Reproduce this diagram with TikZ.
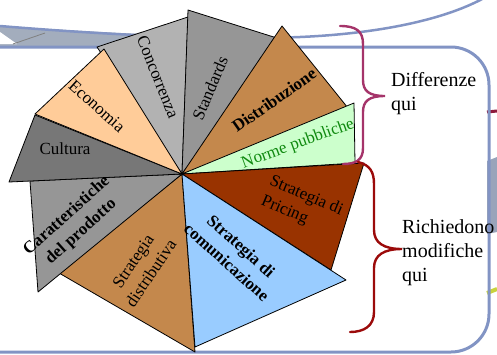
\documentclass[tikz,border=0pt]{standalone}
\usepackage{fontspec}
\setmainfont{Liberation Serif}
\usepackage{xcolor}
\usepackage{tikz}
\usetikzlibrary{positioning}
\pgfdeclarelayer{framelayer}
\pgfdeclarelayer{wedgelayer}
\pgfsetlayers{framelayer,wedgelayer,main}
\definecolor{frameblue}{HTML}{8294C4}
\definecolor{bandgray}{HTML}{A3ADBD}
\definecolor{slategray}{HTML}{98A4BA}
\definecolor{limestub}{HTML}{C9D23C}
\definecolor{stubred}{HTML}{8E1A3C}
\definecolor{bracemagenta}{HTML}{A5346A}
\definecolor{bracered}{HTML}{9B0A0A}
\definecolor{lightgraywedge}{HTML}{B2B2B2}
\definecolor{midgraywedge}{HTML}{969696}
\definecolor{darkgraywedge}{HTML}{777777}
\definecolor{brownwedge}{HTML}{C4884C}
\definecolor{peachwedge}{HTML}{FFCC99}
\definecolor{greenwedge}{HTML}{CCFFCC}
\definecolor{rustwedge}{HTML}{993300}
\definecolor{bluewedge}{HTML}{99CCFF}
\definecolor{normegreen}{HTML}{108A10}

\begin{document}
\begin{tikzpicture}[x=1pt, y=-1pt,
  wedge/.style={draw=black, line width=0.8pt, line join=round},
  tag/.style={inner sep=0pt, align=center, font=\fontsize{17}{21.5}\selectfont},
  boldtag/.style={tag, font=\fontsize{17}{21.5}\selectfont\bfseries},
  note/.style={inner sep=0pt, anchor=north west, align=left, font=\fontsize{20}{24}\selectfont},
  brace/.style={line width=2.4pt, line cap=round}]
  \useasboundingbox (0,0) rectangle (497,354);
  \begin{pgfonlayer}{framelayer}
    \fill [bandgray] (0,26) .. controls (80,31) and (150,35) .. (210,37) -- (210,47) -- (0,47) -- cycle;
    \fill [white] (0,32) -- (17,44) -- (0,44) -- cycle;
    \draw [gray, line width=0.8pt] (13,44) -- (45,33);
    \draw [frameblue, line width=2.5pt] (0,26) .. controls (120,36) and (230,40) .. (300,37) .. controls (370,34) and (440,22) .. (484,-2);
    \draw [stubred, line width=3pt] (487,112) -- (497,111);
    \fill [slategray] (487,161) -- (497,157) -- (497,232) -- (487,234) -- cycle;
    \draw [limestub, line width=4pt] (487,293) -- (497,289);
    \draw [frameblue, line width=3pt, rounded corners=38pt] (-20,47) -- (489,47) -- (489,352) -- (-20,352);
  \end{pgfonlayer}
  \begin{pgfonlayer}{wedgelayer}
    \coordinate (c) at (182,174);
    \filldraw [wedge, fill=lightgraywedge] (c) -- (97,47) -- (188,17) -- cycle;
    \filldraw [wedge, fill=midgraywedge] (c) -- (188,10) -- (280,39) -- cycle;
    \filldraw [wedge, fill=brownwedge] (c) -- (282,26) -- (352,113) -- cycle;
    \filldraw [wedge, fill=greenwedge] (c) -- (354,103) -- (355,163) -- cycle;
    \filldraw [wedge, fill=rustwedge] (c) -- (364,163) -- (331,270) -- cycle;
    \filldraw [wedge, fill=brownwedge] (c) -- (59,273) -- (195,352) -- cycle;
    \filldraw [wedge, fill=bluewedge] (c) -- (346,280) -- (195,347) -- cycle;
    \filldraw [wedge, fill=midgraywedge] (c) -- (30,181) -- (38,292) -- cycle;
    \filldraw [wedge, fill=darkgraywedge] (c) -- (35,115) -- (9,182) -- cycle;
    \filldraw [wedge, fill=peachwedge] (c) -- (104,49) -- (35,114) -- cycle;
  \end{pgfonlayer}
  \node [tag, rotate=-68] (concorrenza) at (158,77) {Concorrenza};
  \node [tag, rotate=67] (standards) at (210,88) {Standards};
  \node [boldtag, rotate=35] (distribuzione) at (274,100) {Distribuzione};
  \node [tag, rotate=20, text=normegreen] (norme) at (298,144) {Norme pubbliche};
  \node [tag, rotate=-23, align=left] (pricing) at (302,206) {Strategia di\\Pricing};
  \node [boldtag, rotate=-42] (comunicazione) at (234,254) {Strategia di\\comunicazione};
  \node [tag, rotate=56] (distributiva) at (142,267) {Strategia\\distributiva};
  \node [boldtag, rotate=42] (prodotto) at (74,224) {Caratteristiche\\del prodotto};
  \node [tag] (cultura) at (65,149) {Cultura};
  \node [tag, rotate=-42] (economia) at (97,106) {Economia};
  \node [note] (differenze) at (391,72) {Differenze\\qui};
  \node [note] (richiedono) at (402,219) {Richiedono\\modifiche\\qui};
  \coordinate (topbrace1) at (340,26);
  \coordinate (topbrace2) at (343,164);
  \coordinate (toptip) at (385,96);
  \coordinate (lowbrace1) at (358,162);
  \coordinate (lowbrace2) at (350,332);
  \coordinate (lowtip) at (402,249);
  \draw [brace, bracemagenta] (topbrace1) .. controls (356,26) and (363,31) .. (363,44) -- (363,80) .. controls (363,91) and (369,96) .. (toptip) .. controls (369,96) and (363,101) .. (363,112) -- (363,148) .. controls (363,160) and (356,164) .. (topbrace2);
  \draw [brace, bracered] (lowbrace1) .. controls (370,165) and (374,172) .. (374,184) -- (374,230) .. controls (374,243) and (384,249) .. (lowtip) .. controls (384,249) and (374,255) .. (374,268) -- (374,312) .. controls (374,326) and (364,332) .. (lowbrace2);
\end{tikzpicture}
\end{document}
